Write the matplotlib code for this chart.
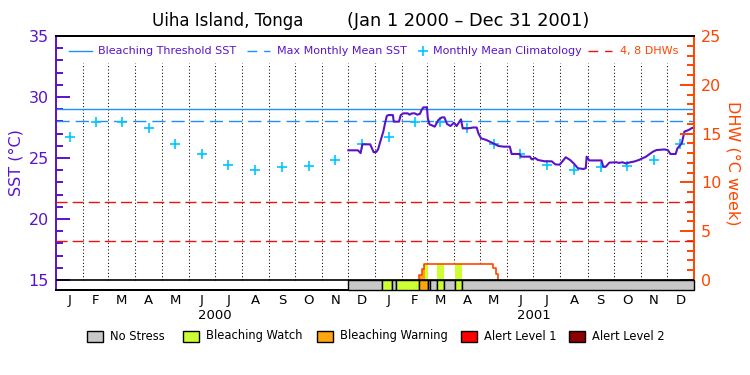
import numpy as np
import pandas as pd
import matplotlib
matplotlib.use("Agg")
import matplotlib.pyplot as plt
import matplotlib.dates as mdates
from matplotlib.lines import Line2D
from matplotlib.patches import Rectangle
from matplotlib.ticker import MultipleLocator

PURPLE = "#5a14c8"
ORANGE = "#ff4500"
BLUE = "#1e8fff"
CYAN = "#00c5ff"
RED = "#ee1111"

# twice-weekly SST (deg C), Dec 2000 - Dec 2001
sst_dates = [
    "2000-12-01", "2000-12-12", "2000-12-15", "2000-12-17", "2000-12-26", "2000-12-30",
    "2001-01-02", "2001-01-04", "2001-01-07", "2001-01-10", "2001-01-12", "2001-01-14",
    "2001-01-16", "2001-01-21", "2001-01-22", "2001-01-28", "2001-01-30", "2001-02-02",
    "2001-02-07", "2001-02-09", "2001-02-12", "2001-02-15", "2001-02-18", "2001-02-21",
    "2001-02-23", "2001-02-25", "2001-03-01", "2001-03-02", "2001-03-04", "2001-03-06",
    "2001-03-10", "2001-03-14", "2001-03-18", "2001-03-21", "2001-03-24", "2001-03-28",
    "2001-04-01", "2001-04-04", "2001-04-09", "2001-04-11", "2001-04-17", "2001-04-23",
    "2001-04-27", "2001-04-29", "2001-05-02", "2001-05-08", "2001-05-12", "2001-05-16",
    "2001-05-22", "2001-05-28", "2001-06-04", "2001-06-06", "2001-06-15", "2001-06-17",
    "2001-06-27", "2001-06-29", "2001-07-03", "2001-07-06", "2001-07-14", "2001-07-22",
    "2001-07-26", "2001-07-31", "2001-08-03", "2001-08-07", "2001-08-12", "2001-08-16",
    "2001-08-21", "2001-08-27", "2001-08-30", "2001-08-31", "2001-09-03", "2001-09-17",
    "2001-09-19", "2001-09-22", "2001-09-26", "2001-10-04", "2001-10-07", "2001-10-11",
    "2001-10-15", "2001-10-20", "2001-10-24", "2001-10-30", "2001-11-07", "2001-11-15",
    "2001-11-19", "2001-11-28", "2001-12-02", "2001-12-05", "2001-12-11", "2001-12-13",
    "2001-12-18", "2001-12-21", "2001-12-26", "2001-12-30", "2001-12-31",
]
sst_vals = [
    25.63, 25.63, 25.40, 26.12, 26.12, 25.47,
    25.50, 25.70, 26.45, 27.16, 27.84, 28.45,
    28.52, 28.52, 27.98, 27.98, 28.52, 28.66,
    28.66, 28.55, 28.66, 28.66, 28.55, 28.62,
    28.95, 29.15, 29.15, 28.25, 27.75, 27.70,
    27.57, 28.11, 28.33, 28.33, 27.79, 27.62,
    27.89, 27.62, 28.17, 27.43, 27.43, 27.50,
    27.50, 27.02, 26.61, 26.48, 26.34, 26.20,
    25.98, 25.93, 25.93, 25.33, 25.33, 25.11,
    25.11, 24.89, 25.00, 24.84, 24.73, 24.73,
    24.48, 24.45, 24.70, 25.06, 24.84, 24.57,
    24.16, 24.10, 24.16, 25.11, 24.80, 24.80,
    24.29, 24.29, 24.62, 24.65, 24.60, 24.65,
    24.55, 24.65, 24.70, 24.84, 25.11, 25.52,
    25.65, 25.70, 25.65, 25.33, 25.33, 25.79,
    26.20, 27.16, 27.30, 27.47, 27.47,
]

# monthly mean climatology, Jan..Dec
clim_vals = [26.75, 27.93, 27.98, 27.43, 26.17, 25.35, 24.40, 23.99, 24.24, 24.32, 24.81, 26.15]
mmm = 28.0
threshold = 29.0
dhw_levels = [4, 8]

# degree heating weeks (step values, start dates)
dhw_dates = ["2001-02-20", "2001-02-23", "2001-02-26", "2001-05-16", "2001-05-19", "2001-05-22"]
dhw_vals = [0.5, 1.1, 1.65, 1.2, 0.6, 0.0]

# stress level per period: 0 none, 1 watch, 2 warning, 3 alert 1, 4 alert 2
stress_starts = ["2000-12-01", "2001-01-08", "2001-01-20", "2001-01-24", "2001-02-20",
                 "2001-03-02", "2001-03-05", "2001-03-13", "2001-03-20", "2001-04-02",
                 "2001-04-10"]
stress_levels = [0, 1, 0, 1, 2, 0, 0, 1, 0, 1, 0]
stress_end = "2002-01-01"

# colour under the DHW curve
fill_starts = ["2001-02-20", "2001-02-27", "2001-03-02", "2001-03-13", "2001-03-20",
               "2001-04-02", "2001-04-10"]
fill_levels = [2, 1, 0, 1, 0, 1, 0]
fill_end = "2001-05-23"

stress_names = ["No Stress", "Bleaching Watch", "Bleaching Warning", "Alert Level 1", "Alert Level 2"]
stress_colors = ["#c8c8c8", "#ccff33", "#ffa510", "#ff0000", "#8b0000"]
month_letters = ["J", "F", "M", "A", "M", "J", "J", "A", "S", "O", "N", "D"]


def d2n(s):
    return mdates.date2num(pd.to_datetime(s))


fig = plt.figure(figsize=(7.5, 3.75), dpi=100)
W, H = 750.0, 375.0
ax = fig.add_axes([56 / W, 1 - 290 / H, (694 - 56) / W, (290 - 36) / H])
ax2 = ax.twinx()

x0, x1 = d2n("2000-01-01"), d2n("2002-01-01")
sst_lo, sst_hi = 14.18, 35.0
ax.set_xlim(x0, x1)
ax.set_ylim(sst_lo, sst_hi)
ax2.set_ylim((sst_lo - 15) * 1.25, 25)

# month boundaries
month_starts = pd.date_range("2000-01-01", "2002-01-01", freq="MS")
ax.vlines(mdates.date2num(month_starts[1:-1]), 15, 32.8, colors="black",
          linestyles=(0, (1, 2.2)), lw=0.75, zorder=1)

# reference lines
ax.axhline(threshold, color=BLUE, lw=1.0, zorder=2)
ax.axhline(mmm, color=BLUE, lw=1.0, ls=(0, (9.5, 4.3)), zorder=2)
for lvl in dhw_levels:
    ax2.axhline(lvl, color=RED, lw=1.0, ls=(0, (8, 3.6)), zorder=2)

# climatology crosses at mid-month, repeated for both years
mids = month_starts[:-1] + (month_starts[1:] - month_starts[:-1]) / 2
ax.plot(mdates.date2num(mids), clim_vals * 2, ls="none", marker="+", ms=7.5,
        mew=1.2, color=CYAN, zorder=3)

# SST
ax.plot(d2n(sst_dates), sst_vals, color=PURPLE, lw=1.5, zorder=4)

# fill under DHW, coloured by stress
dx = d2n(dhw_dates)
dv = np.array(dhw_vals)
fx = list(d2n(fill_starts)) + [d2n(fill_end)]
for i, lev in enumerate(fill_levels):
    s, e = fx[i], fx[i + 1]
    pts = [s] + [t for t in dx if s < t < e] + [e]
    vals = [dv[np.searchsorted(dx, t, side="right") - 1] for t in pts]
    c = "white" if lev == 0 else stress_colors[lev]
    ax2.fill_between(pts, vals, 0, step="post", color=c, lw=0, zorder=3)

ax2.plot(np.r_[dx[0], dx], np.r_[0, dv], drawstyle="steps-post", color=ORANGE,
         lw=1.2, zorder=4)

# stress bar along the bottom
bar_lo = (sst_lo - 15) * 1.25
sx = list(d2n(stress_starts)) + [d2n(stress_end)]
for i, lev in enumerate(stress_levels):
    ax2.add_patch(Rectangle((sx[i], bar_lo), sx[i + 1] - sx[i], -bar_lo,
                            facecolor=stress_colors[lev], edgecolor="black", lw=1.0,
                            zorder=5, clip_on=False))
ax2.axhline(0, color="black", lw=1.2, zorder=5)

# axes styling
for a in (ax, ax2):
    a.spines["top"].set_color("black")
    a.spines["bottom"].set_color("black")
    a.spines["left"].set_color(PURPLE)
    a.spines["right"].set_color(ORANGE)
    for sp in a.spines.values():
        sp.set_linewidth(1.4)
ax.spines["right"].set_visible(False)
ax2.spines["left"].set_visible(False)

ax.yaxis.set_major_locator(MultipleLocator(5))
ax.yaxis.set_minor_locator(MultipleLocator(1))
ax.tick_params(axis="y", which="major", direction="in", length=10, width=1.4,
               color=PURPLE, labelcolor=PURPLE, labelsize=11.5, pad=5)
ax.tick_params(axis="y", which="minor", direction="in", length=5, width=1.4, color=PURPLE)
ax2.yaxis.set_major_locator(MultipleLocator(5))
ax2.yaxis.set_minor_locator(MultipleLocator(1))
ax2.set_ylim((sst_lo - 15) * 1.25, 25)
ax2.tick_params(axis="y", which="major", direction="in", length=10, width=1.4,
                color=ORANGE, labelcolor=ORANGE, labelsize=11.5, pad=5)
ax2.tick_params(axis="y", which="minor", direction="in", length=5, width=1.4, color=ORANGE)

ax.set_xticks(mdates.date2num(mids))
ax.set_xticklabels(month_letters * 2)
ax.tick_params(axis="x", length=0, labelsize=9.5, pad=3)
for yr, xc in (("2000", d2n("2000-07-01")), ("2001", d2n("2001-07-02"))):
    ax.text(xc, -0.102, yr, transform=ax.get_xaxis_transform(), ha="center",
            va="center", fontsize=9.5)

ax.set_ylabel("SST (°C)", color=PURPLE, fontsize=11.5, labelpad=4)
ax2.set_ylabel("DHW (°C week)", color=ORANGE, fontsize=11.5, rotation=270, labelpad=14)

# title
fig.text(152 / W, 1 - 21 / H, "Uiha Island, Tonga", fontsize=12, va="center", ha="left")
fig.text(347 / W, 1 - 21 / H, "(Jan 1 2000 – Dec 31 2001)", fontsize=12.8, va="center", ha="left")

# top legend
ly = 1 - 51 / H
fs_leg = 8.0
fig.add_artist(Line2D([69 / W, 92 / W], [ly, ly], color=BLUE, lw=1.0))
fig.text(98 / W, ly, "Bleaching Threshold SST", color=PURPLE, fontsize=fs_leg, va="center")
fig.add_artist(Line2D([247 / W, 270 / W], [ly, ly], color=BLUE, lw=1.0, ls=(0, (7, 5))))
fig.text(277 / W, ly, "Max Monthly Mean SST", color=PURPLE, fontsize=fs_leg, va="center")
fig.add_artist(Line2D([423 / W], [ly], color=CYAN, marker="+", ms=7, mew=1.2, ls="none"))
fig.text(433 / W, ly, "Monthly Mean Climatology", color=PURPLE, fontsize=fs_leg, va="center")
fig.add_artist(Line2D([588 / W, 612 / W], [ly, ly], color=RED, lw=1.0, ls=(0, (7, 5))))
fig.text(620 / W, ly, "4, 8 DHWs", color=ORANGE, fontsize=fs_leg, va="center")

# stress legend
by = 1 - 336 / H
box_x = [87, 183, 317, 461, 569]
for bx, name, col in zip(box_x, stress_names, stress_colors):
    fig.add_artist(Rectangle((bx / W, by - 5.5 / H), 16 / W, 11 / H, facecolor=col,
                             edgecolor="black", lw=1.0, transform=fig.transFigure))
    fig.text((bx + 23) / W, by, name, fontsize=8.3, va="center")

fig.savefig("out.png", dpi=100)
